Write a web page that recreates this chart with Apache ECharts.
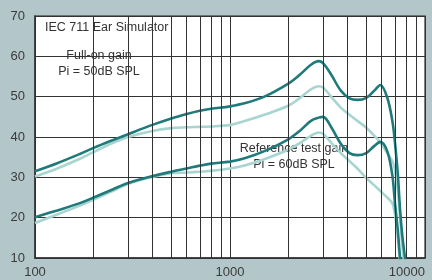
<!DOCTYPE html>
<html>
<head>
<meta charset="utf-8">
<script src="https://cdn.jsdelivr.net/npm/echarts@6/dist/echarts.min.js"></script>
<style>
  html, body { margin: 0; padding: 0; background: #b3c7ca; }
  #chart { width: 432px; height: 280px; }
</style>
</head>
<body>
<div id="chart"></div>
<script>
// frequency points (Hz) shared by all four curves
var freqs = [100, 130, 170, 200, 250, 300, 400, 500, 600, 700, 800, 1000, 1200, 1500, 2000, 2300, 2600, 2850, 3000, 3300, 3700, 4100, 4500, 5000, 5500, 5900, 6400, 6800, 7000, 7250, 7450, 7650, 7900, 8200];

// Full-on gain, Pi = 50dB SPL
var fullOnDark  = [31.5, 33.5, 35.8, 37.3, 39.2, 40.7, 43.0, 44.6, 45.7, 46.5, 47.0, 47.6, 48.4, 50.0, 53.3, 55.6, 57.9, 58.8, 58.3, 55.5, 51.5, 49.6, 49.2, 49.7, 51.5, 52.9, 49.8, 44.0, 39.0, 31.0, 22.0, 15.5, 10.0, 4.0];
var fullOnLight = [30.2, 32.2, 34.6, 36.3, 38.5, 40.0, 41.5, 42.2, 42.4, 42.5, 42.6, 43.0, 44.0, 45.5, 47.8, 49.8, 51.8, 52.6, 52.3, 50.0, 47.3, 45.5, 44.0, 42.3, 40.3, 38.6, 36.0, 34.0, 32.0, 27.0, 20.0, 13.0, 7.0, 2.0];

// Reference test gain, Pi = 60dB SPL
var refDark  = [20.1, 21.8, 23.6, 25.0, 27.0, 28.6, 30.3, 31.4, 32.2, 32.9, 33.4, 33.9, 34.8, 36.5, 39.5, 41.7, 44.0, 44.8, 45.0, 42.5, 38.3, 36.0, 35.5, 36.0, 37.8, 38.8, 36.5, 30.5, 24.0, 17.0, 10.0, 5.0, 2.0, 0.0];
var refLight = [18.7, 20.8, 23.0, 24.5, 26.6, 28.4, 30.1, 31.0, 31.2, 31.4, 31.6, 32.2, 33.0, 34.5, 36.9, 38.6, 40.3, 41.1, 40.8, 38.6, 36.0, 34.0, 32.2, 29.8, 28.0, 26.6, 25.0, 23.6, 21.0, 15.0, 9.0, 4.0, 1.0, 0.0];

// log grid lines between the decades
var minorFreqs = [200, 300, 400, 500, 600, 700, 800, 900, 2000, 3000, 4000, 5000, 6000, 7000, 8000, 9000];
var yTicks = [10, 20, 30, 40, 50, 60, 70];

var darkColor = '#207a7b';
var lightColor = '#a8d5d0';

function pairs(values) {
  return freqs.map(function (f, i) { return [f, values[i]]; });
}

function curve(name, values, color, z) {
  return {
    name: name,
    type: 'line',
    data: pairs(values),
    smooth: 0.35,
    showSymbol: false,
    symbol: 'none',
    z: z,
    lineStyle: { color: color, width: 2.6 },
    clip: true,
    silent: true
  };
}

var myChart = echarts.init(document.getElementById('chart'));

var option = {
  animation: false,
  backgroundColor: '#b3c7ca',
  grid: {
    left: 35, right: 7, top: 16, bottom: 22,
    show: true,
    backgroundColor: '#ffffff',
    borderColor: '#5a5a5a',
    borderWidth: 1.5
  },
  xAxis: {
    type: 'log',
    logBase: 10,
    min: 100,
    max: 10000,
    axisLine: { show: true, lineStyle: { color: '#333', width: 1.5 } },
    axisTick: { show: false },
    splitLine: { show: true, lineStyle: { color: '#333', width: 1 } },
    axisLabel: {
      color: '#3a3a3a',
      fontSize: 13,
      fontFamily: 'Liberation Sans',
      margin: 8,
      alignMaxLabel: 'right',
      formatter: function (v) { return String(Math.round(v)); }
    }
  },
  yAxis: {
    type: 'value',
    min: yTicks[0],
    max: yTicks[yTicks.length - 1],
    interval: 10,
    axisLine: { show: true, lineStyle: { color: '#333', width: 1.5 } },
    axisTick: { show: false },
    splitLine: { show: true, lineStyle: { color: '#333', width: 1 } },
    axisLabel: {
      color: '#3a3a3a',
      fontSize: 13,
      fontFamily: 'Liberation Sans',
      margin: 10
    }
  },
  graphic: [
    { type: 'text', left: 45, top: 21, z: 0, style: { text: 'IEC 711 Ear Simulator', fill: '#333', font: '12.5px "Liberation Sans"' } },
    { type: 'text', x: 99, y: 49, z: 0, style: { text: 'Full-on gain', fill: '#333', font: '12.5px "Liberation Sans"', align: 'center' } },
    { type: 'text', x: 99, y: 65, z: 0, style: { text: 'Pi = 50dB SPL', fill: '#333', font: '12.5px "Liberation Sans"', align: 'center' } },
    { type: 'text', x: 294, y: 142, z: 0, style: { text: 'Reference test gain', fill: '#333', font: '12.5px "Liberation Sans"', align: 'center' } },
    { type: 'text', x: 294, y: 158, z: 0, style: { text: 'Pi = 60dB SPL', fill: '#333', font: '12.5px "Liberation Sans"', align: 'center' } }
  ],
  series: [
    {
      type: 'line',
      data: [],
      silent: true,
      z: 1,
      markLine: {
        silent: true,
        symbol: 'none',
        label: { show: false },
        lineStyle: { color: '#333', width: 1, type: 'solid' },
        emphasis: { disabled: true },
        data: minorFreqs.map(function (f) { return { xAxis: f }; })
      }
    },
    curve('Full-on gain (light)', fullOnLight, lightColor, 2),
    curve('Reference test gain (light)', refLight, lightColor, 2),
    curve('Full-on gain', fullOnDark, darkColor, 3),
    curve('Reference test gain', refDark, darkColor, 3)
  ]
};

myChart.setOption(option);
</script>
</body>
</html>
